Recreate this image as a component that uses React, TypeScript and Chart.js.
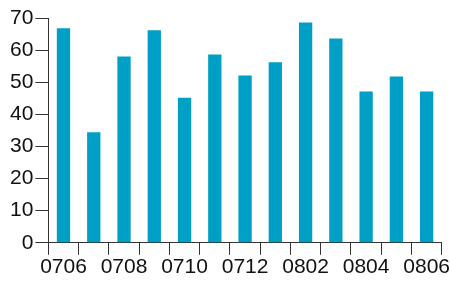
import React, { useEffect, useRef } from "react";
import { Chart, registerables } from "chart.js";

Chart.register(...registerables);

const categories = ["0706", "0707", "0708", "0709", "0710", "0711", "0712", "0801", "0802", "0803", "0804", "0805", "0806"];
const values = [66.8, 34.4, 58.0, 66.2, 45.2, 58.6, 52.1, 56.2, 68.6, 63.6, 47.1, 51.8, 47.1];
const yTicks = [0, 10, 20, 30, 40, 50, 60, 70];

export default function App() {
  const ref = useRef<HTMLCanvasElement | null>(null);
  useEffect(() => {
    if (!ref.current) return;
    const axisColor = "#333333";
    const font = { family: "'Liberation Sans', Arial, sans-serif", size: 21 };
    const chart = new Chart(ref.current, {
      type: "bar",
      data: {
        labels: categories,
        datasets: [
          {
            data: values,
            backgroundColor: "#00a0c6",
            borderWidth: 0,
            barPercentage: 0.44,
            categoryPercentage: 1,
          },
        ],
      },
      options: {
        animation: false,
        responsive: false,
        maintainAspectRatio: false,
        layout: { padding: { left: 8, top: 18, right: 0, bottom: 3 } },
        plugins: { legend: { display: false }, tooltip: { enabled: false } },
        scales: {
          x: {
            grid: {
              offset: true,
              drawOnChartArea: false,
              drawTicks: true,
              tickLength: 12,
              color: axisColor,
              lineWidth: 1,
            },
            border: { display: true, color: axisColor, width: 1 },
            ticks: {
              autoSkip: false,
              maxRotation: 0,
              color: "#111",
              font,
              padding: 0,
              callback: (_v: any, i: number) => (i % 2 === 0 ? categories[i] : ""),
            },
          },
          y: {
            min: 0,
            max: 70,
            afterBuildTicks: (scale: any) => {
              scale.ticks = yTicks.map((v) => ({ value: v }));
            },
            grid: {
              drawOnChartArea: false,
              drawTicks: true,
              tickLength: 13,
              color: axisColor,
              lineWidth: 1,
            },
            border: { display: true, color: axisColor, width: 1 },
            ticks: { color: "#111", font, padding: 2 },
          },
        },
      },
    });
    return () => chart.destroy();
  }, []);
  return (
    <div style={{ position: "fixed", left: 0, top: 0, width: 450, height: 283, background: "#fff" }}>
      <canvas ref={ref} width={450} height={283} style={{ width: 450, height: 283 }} />
    </div>
  );
}
